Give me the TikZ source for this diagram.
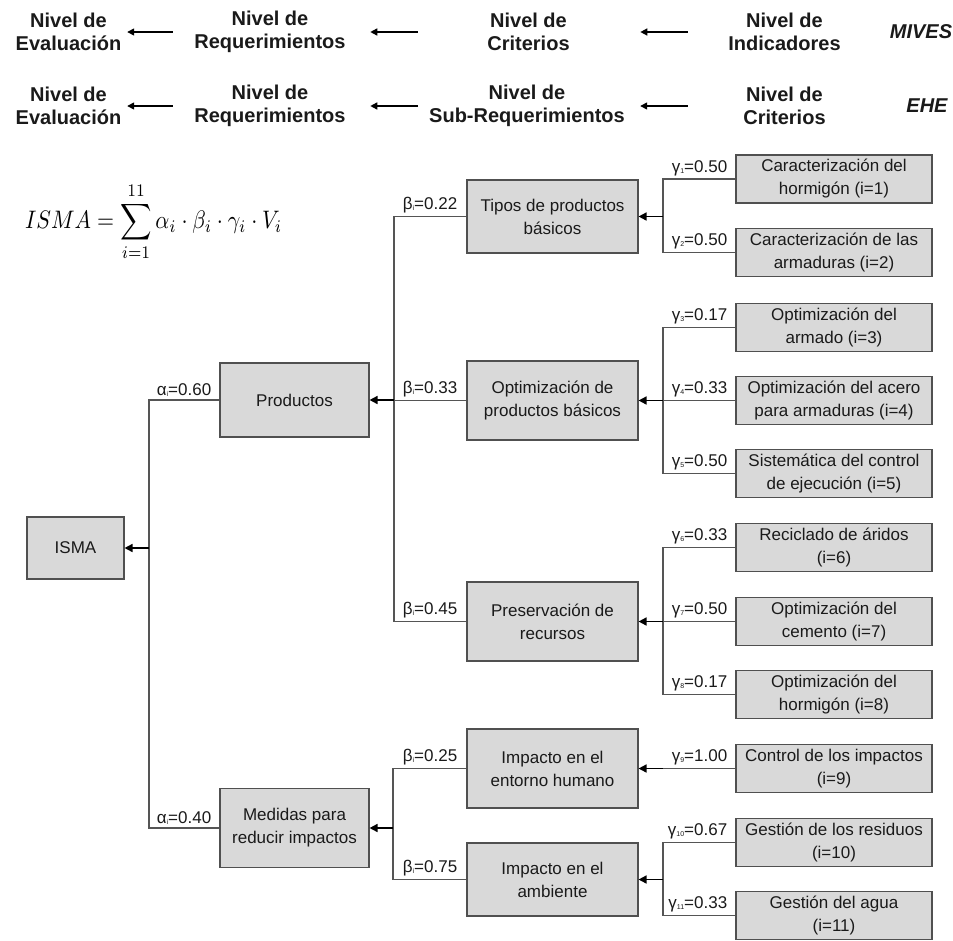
\documentclass[tikz,border=0pt]{standalone}
\usepackage{fontspec}
\setmainfont{Liberation Sans}
\usepackage{graphicx}
\usetikzlibrary{arrows.meta}
\definecolor{boxfill}{HTML}{D9D9D9}
\definecolor{boxline}{HTML}{505050}
\definecolor{wirecol}{HTML}{555555}
\definecolor{ink}{HTML}{1A1A1A}
% tiny index after a Greek weight symbol
\newcommand\sbs[1]{\raisebox{-1pt}{\fontsize{7}{7}\selectfont #1}}

\begin{document}
\begin{tikzpicture}[x=1pt,y=-1pt,
  box/.style={draw=boxline, fill=boxfill, line width=1.1pt, align=center,
    inner sep=0pt, text=ink, font=\fontsize{17}{23}\selectfont},
  midbox/.style={box, minimum width=171pt},
  leafbox/.style={box, minimum width=196pt, minimum height=48pt},
  wgt/.style={anchor=south east, inner sep=0pt, text=ink,
    font=\fontsize{17}{20}\selectfont},
  wire/.style={draw=wirecol, line width=1.1pt},
  feed/.style={draw=black, line width=1.6pt, -{Triangle[length=8pt,width=8pt]}},
  lvl/.style={align=center, inner sep=0pt, text=ink,
    font=\fontsize{20}{23}\selectfont\bfseries},
  lvlarrow/.style={draw=black, line width=1.4pt, -{Triangle[length=7pt,width=7pt]}},
  tag/.style={inner sep=0pt, text=ink, font=\fontsize{20}{23}\selectfont\bfseries\itshape}
]
\useasboundingbox (0,0) rectangle (953,940);

% ---- level headings: MIVES row
\node[lvl] (m1) at (68.5,32) {Nivel de\\Evaluación};
\node[lvl] (m2) at (270,32) {Nivel de\\Requerimientos};
\node[lvl] (m3) at (528.5,32) {Nivel de\\Criterios};
\node[lvl] (m4) at (784.5,32) {Nivel de\\Indicadores};
\node[tag] (mives) at (921,32) {MIVES};
\draw[lvlarrow, shorten <=21.5pt, shorten >=5.7pt] (m2) -- (m1);
\draw[lvlarrow, shorten <=69.5pt, shorten >=24.5pt] (m3) -- (m2);
\draw[lvlarrow, shorten <=40.5pt, shorten >=70.5pt] (m4) -- (m3);

% ---- level headings: EHE row
\node[lvl] (e1) at (68.5,106) {Nivel de\\Evaluación};
\node[lvl] (e2) at (270,106) {Nivel de\\Requerimientos};
\node[lvl] (e3) at (527,106) {Nivel de\\Sub-Requerimientos};
\node[lvl] (e4) at (784.5,106) {Nivel de\\Criterios};
\node[tag] (ehe) at (927,106) {EHE};
\draw[lvlarrow, shorten <=21.5pt, shorten >=5.7pt] (e2) -- (e1);
\draw[lvlarrow, shorten <=11pt, shorten >=24.5pt] (e3) -- (e2);
\draw[lvlarrow, shorten <=55.5pt, shorten >=15.2pt] (e4) -- (e3);

% ---- aggregation formula
\node[anchor=west, inner sep=0pt] (eq) at (25,222)
  {\resizebox*{257pt}{78pt}{$\displaystyle ISMA=\sum_{i=1}^{11}\alpha_i\cdot\beta_i\cdot\gamma_i\cdot V_i$}};

% ---- tree boxes
\node[box, minimum width=97pt, minimum height=62pt] (isma) at (75.5,548) {ISMA};
\node[box, minimum width=149pt, minimum height=74pt] (prod) at (294.5,400) {Productos};
\node[box, minimum width=149pt, minimum height=79pt] (med) at (294.5,828) {Medidas para\\reducir impactos};

\node[midbox, minimum height=73pt] (tipos) at (552.5,216.5) {Tipos de productos\\básicos};
\node[midbox, minimum height=79pt] (optim) at (552.5,400.5) {Optimización de\\productos básicos};
\node[midbox, minimum height=79pt] (pres) at (552.5,621.5) {Preservación de\\recursos};
\node[midbox, minimum height=79pt] (ent) at (552.5,768.5) {Impacto en el\\entorno humano};
\node[midbox, minimum height=73pt] (amb) at (552.5,879.5) {Impacto en el\\ambiente};

\node[leafbox] (L1) at (834,179) {Caracterización del\\hormigón (i=1)};
\node[leafbox] (L2) at (834,252.5) {Caracterización de las\\armaduras (i=2)};
\node[leafbox] (L3) at (834,327.5) {Optimización del\\armado (i=3)};
\node[leafbox] (L4) at (834,400.5) {Optimización del acero\\para armaduras (i=4)};
\node[leafbox] (L5) at (834,473.5) {Sistemática del control\\de ejecución (i=5)};
\node[leafbox] (L6) at (834,547.5) {Reciclado de áridos\\(i=6)};
\node[leafbox] (L7) at (834,621.5) {Optimización del\\cemento (i=7)};
\node[leafbox] (L8) at (834,694.5) {Optimización del\\hormigón (i=8)};
\node[leafbox] (L9) at (834,768.5) {Control de los impactos\\(i=9)};
\node[leafbox] (L10) at (834,842.5) {Gestión de los residuos\\(i=10)};
\node[leafbox] (L11) at (834,915.5) {Gestión del agua\\(i=11)};

% ---- branching points
\coordinate (bI) at (149,548);
\coordinate (bP) at (394,400);
\coordinate (bM) at (393,828);
\coordinate (bT) at (663,216.5);
\coordinate (bO) at (663,400.5);
\coordinate (bR) at (663,621.5);
\coordinate (bA) at (663,879.5);
\coordinate (bE) at (663,768.5);

% ---- connectors
\draw[wire] (prod.west) -| (bI);
\draw[wire] (med.west) -| (bI);
\draw[feed] (bI) -- (isma.east);

\draw[wire] (tipos.west) -| (bP);
\draw[wire] (optim.west) -| (bP);
\draw[wire] (pres.west) -| (bP);
\draw[feed] (bP) -- (prod.east);

\draw[wire] (ent.west) -| (bM);
\draw[wire] (amb.west) -| (bM);
\draw[feed] (bM) -- (med.east);

\draw[wire] (L1.west) -| (bT);
\draw[wire] (L2.west) -| (bT);
\draw[feed] (bT) -- (tipos.east);

\draw[wire] (L3.west) -| (bO);
\draw[wire] (L4.west) -| (bO);
\draw[wire] (L5.west) -| (bO);
\draw[feed] (bO) -- (optim.east);

\draw[wire] (L6.west) -| (bR);
\draw[wire] (L7.west) -| (bR);
\draw[wire] (L8.west) -| (bR);
\draw[feed] (bR) -- (pres.east);

\draw[wire] (L9.west) -- (bE);
\draw[feed] (bE) -- (ent.east);

\draw[wire] (L10.west) -| (bA);
\draw[wire] (L11.west) -| (bA);
\draw[feed] (bA) -- (amb.east);

% ---- weights
\node[wgt] (wa1) at ([xshift=-8pt,yshift=3pt]prod.west) {α\sbs{i}=0.60};
\node[wgt] (wa2) at ([xshift=-8pt,yshift=3pt]med.west) {α\sbs{i}=0.40};
\node[wgt] (wb1) at ([xshift=-9pt,yshift=3pt]tipos.west) {β\sbs{i}=0.22};
\node[wgt] (wb2) at ([xshift=-9pt,yshift=3pt]optim.west) {β\sbs{i}=0.33};
\node[wgt] (wb3) at ([xshift=-9pt,yshift=3pt]pres.west) {β\sbs{i}=0.45};
\node[wgt] (wb4) at ([xshift=-9pt,yshift=3pt]ent.west) {β\sbs{i}=0.25};
\node[wgt] (wb5) at ([xshift=-9pt,yshift=3pt]amb.west) {β\sbs{i}=0.75};
\node[wgt] (wg1) at ([xshift=-8pt,yshift=3pt]L1.west) {γ\sbs{1}=0.50};
\node[wgt] (wg2) at ([xshift=-8pt,yshift=3pt]L2.west) {γ\sbs{2}=0.50};
\node[wgt] (wg3) at ([xshift=-8pt,yshift=3pt]L3.west) {γ\sbs{3}=0.17};
\node[wgt] (wg4) at ([xshift=-8pt,yshift=3pt]L4.west) {γ\sbs{4}=0.33};
\node[wgt] (wg5) at ([xshift=-8pt,yshift=3pt]L5.west) {γ\sbs{5}=0.50};
\node[wgt] (wg6) at ([xshift=-8pt,yshift=3pt]L6.west) {γ\sbs{6}=0.33};
\node[wgt] (wg7) at ([xshift=-8pt,yshift=3pt]L7.west) {γ\sbs{7}=0.50};
\node[wgt] (wg8) at ([xshift=-8pt,yshift=3pt]L8.west) {γ\sbs{8}=0.17};
\node[wgt] (wg9) at ([xshift=-8pt,yshift=3pt]L9.west) {γ\sbs{9}=1.00};
\node[wgt] (wg10) at ([xshift=-8pt,yshift=3pt]L10.west) {γ\sbs{10}=0.67};
\node[wgt] (wg11) at ([xshift=-8pt,yshift=3pt]L11.west) {γ\sbs{11}=0.33};
\end{tikzpicture}
\end{document}
